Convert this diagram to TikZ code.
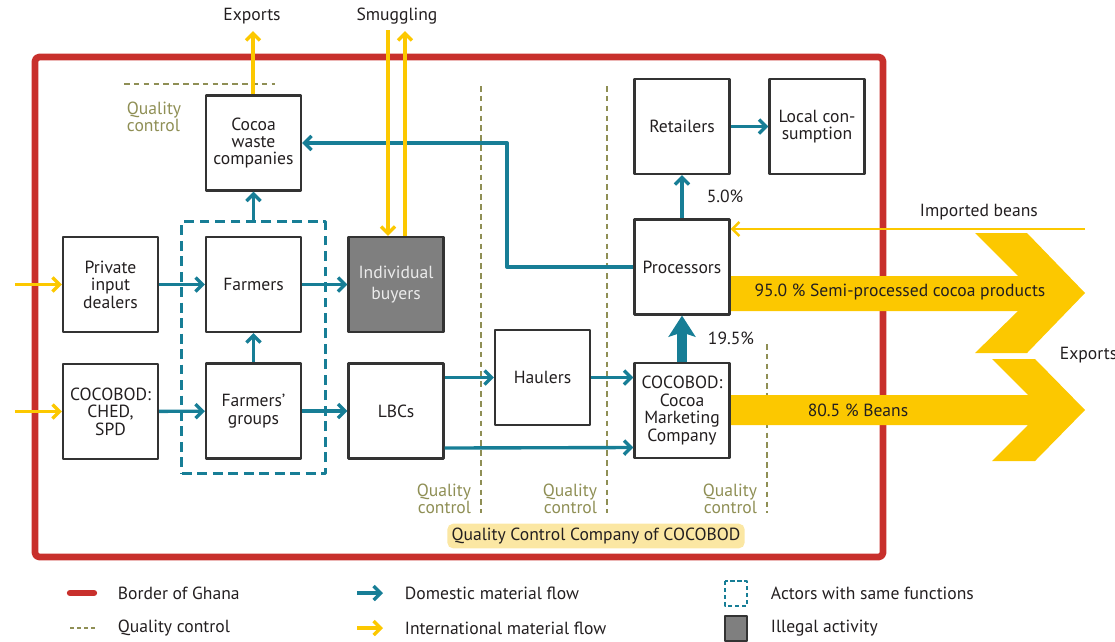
\documentclass[tikz,border=0pt]{standalone}
\usepackage{fontspec}
\setmainfont{PT Sans}
\usetikzlibrary{arrows.meta,fit,calc}
\definecolor{ghanared}{HTML}{C8302C}
\definecolor{flowteal}{HTML}{177E96}
\definecolor{flowyellow}{HTML}{FCC800}
\definecolor{qcolive}{HTML}{8F8F55}
\definecolor{qcfill}{HTML}{FBE7A3}
\definecolor{illegalgray}{HTML}{7F7F7F}
\definecolor{boxline}{HTML}{333333}
\definecolor{ink}{HTML}{231F20}
\begin{document}
\begin{tikzpicture}[x=0.025cm,y=-0.025cm,>={Straight Barb[length=5pt,width=10pt]},line join=round,
	font=\fontsize{12.5}{12.4}\selectfont,text=ink,
	actor/.style={draw=boxline,line width=1.5pt,fill=white,minimum width=2.375cm,minimum height=2.375cm,align=center,inner sep=1pt},
	dom/.style={->,flowteal,line width=2.4pt},
	intl/.style={->,flowyellow,line width=2.4pt},
	qcline/.style={qcolive,line width=0.9pt,dash pattern=on 4pt off 3pt},
	qctext/.style={qcolive,font=\fontsize{12.5}{12.2}\selectfont},
	legtext/.style={anchor=west,font=\fontsize{12.5}{12}\selectfont}]
	\useasboundingbox (0,0) rectangle (1115,641);
	\draw[ghanared,line width=4.8pt,rounded corners=3pt] (35,57) rectangle (883,557);
	\draw[qcline] (124,84)--(275,84) (481,86)--(481,513) (607,86)--(607,513) (767,344)--(767,513);
	\node[qctext,anchor=west,align=left] (qc0) at (122,117) {Quality\\control};
	\node[qctext,anchor=east,align=right] (qc1) at (476,499) {Quality\\control};
	\node[qctext,anchor=east,align=right] (qc2) at (602,499) {Quality\\control};
	\node[qctext,anchor=east,align=right] (qc3) at (762,499) {Quality\\control};
	\node[fill=qcfill,rounded corners=4pt,inner xsep=3pt,inner ysep=3pt] (qcc) at (596,536) {Quality Control Company of COCOBOD};
	% chevrons
	\fill[flowyellow] (729,276)--(1018,276)--(975,233)--(1027,233)--(1085,293)--(1027,353)--(975,353)--(1018,311)--(729,311)--cycle;
	\fill[flowyellow] (729,395)--(1028,395)--(992,359)--(1035,359)--(1085,410)--(1035,461)--(992,461)--(1028,425)--(729,425)--cycle;
	\node (semi) at (900,292) {95.0 \% Semi-processed cocoa products};
	\node (beans) at (858,410) {80.5 \% Beans};
	\node[anchor=west] (exp2) at (1055,355) {Exports};
	% actors
	\node[actor] (waste) at (253.5,143) {Cocoa\\waste\\companies};
	\node[actor] (dealers) at (110.5,284.5) {Private\\input\\dealers};
	\node[actor] (ched) at (110.5,411.5) {COCOBOD:\\CHED,\\SPD};
	\node[actor] (farmers) at (253.5,284.5) {Farmers};
	\node[actor] (groups) at (253.5,411) {Farmers'\\groups};
	\node[actor,fill=illegalgray,text=white!92!black,font=\fontsize{12.5}{15.5}\selectfont] (buyers) at (396,284.5) {Individual\\buyers};
	\node[actor] (lbc) at (396,411) {LBCs};
	\node[actor] (haulers) at (542.5,377.5) {Haulers};
	\node[actor] (cmc) at (682,410.5) {COCOBOD:\\Cocoa\\Marketing\\Company};
	\node[actor] (proc) at (682,267) {Processors};
	\node[actor] (retail) at (682,126.5) {Retailers};
	\node[actor] (local) at (817,126.5) {Local con-\\sumption};
	\node[draw=flowteal,line width=2.2pt,dash pattern=on 7pt off 4pt,fit=(farmers)(groups),inner xsep=0.575cm,inner ysep=0.35cm] (same) {};
	% flows
	\draw[dom] (dealers)--(farmers);
	\draw[dom] (ched)--(groups);
	\draw[dom] (farmers)--(buyers);
	\draw[dom] (groups)--(lbc);
	\draw[dom] (groups)--(farmers);
	\draw[dom] (same.north)--(waste.south);
	\draw[dom] (lbc.east |- haulers.west)--(haulers.west);
	\draw[dom] (haulers.east)--(haulers.east -| cmc.west);
	\draw[dom] ($(lbc.east)+(0,37)$)--($(cmc.west)+(0,37)$);
	\draw[dom] (proc)--(retail);
	\draw[dom] (retail)--(local);
	\draw[dom] (proc.west)--(507,267)|-(waste.east);
	\draw[->,flowteal,line width=7.5pt,>={Stealth[length=15pt,width=19pt,inset=3pt]}] (cmc)--(proc);
	\node (p5) at (725,196) {5.0\%};
	\node (p195) at (731,338) {19.5\%};
	\coordinate (impin) at (1085,229);
	\draw[intl,line width=1.8pt] (impin)--(impin -| proc.east);
	\node[anchor=west] (imp) at (915,212) {Imported beans};
	\coordinate (in1) at (15,284.5);
	\coordinate (in2) at (15,411.5);
	\draw[intl] (in1)--(dealers);
	\draw[intl] (in2)--(ched);
	\node (exp1) at (252,16) {Exports};
	\node (smug) at (397,16) {Smuggling};
	\coordinate (expout) at (253,31);
	\coordinate (smugin) at (388,30);
	\coordinate (smugout) at (405,31);
	\draw[intl] (waste.north -| expout)--(expout);
	\draw[intl] (smugin)--(smugin |- buyers.north);
	\draw[intl] (smugout |- buyers.north)--(smugout);
	% legend
	\draw[ghanared,line width=4.5pt,line cap=round] (70,593)--(94,593);
	\node[legtext] (l1) at (113,593) {Border of Ghana};
	\draw[qcline,dash pattern=on 3pt off 2pt] (70,628)--(95,628);
	\node[legtext] (l2) at (113,628) {Quality control};
	\draw[dom] (357,593)--(383,593);
	\node[legtext] (l3) at (400,593) {Domestic material flow};
	\draw[intl] (357,628)--(383,628);
	\node[legtext] (l4) at (400,628) {International material flow};
	\draw[flowteal,line width=1.8pt,dash pattern=on 3pt off 2pt] (725,581) rectangle (747,606);
	\node[legtext] (l5) at (766,593) {Actors with same functions};
	\draw[boxline,fill=illegalgray,line width=1pt] (725,616) rectangle (747,641);
	\node[legtext] (l6) at (766,628) {Illegal activity};
\end{tikzpicture}
\end{document}
